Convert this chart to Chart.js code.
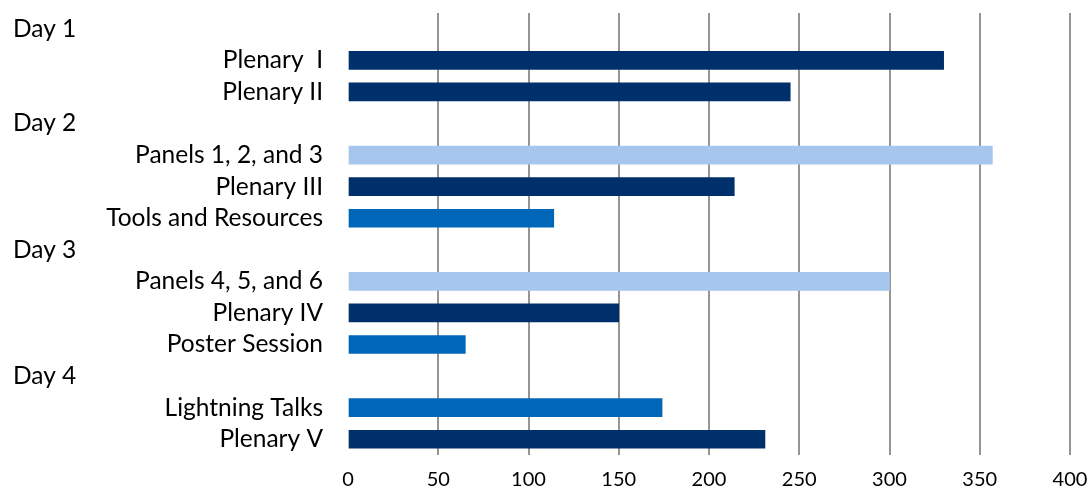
<!DOCTYPE html>
<html>
<head>
<meta charset="utf-8">
<script src="https://cdn.jsdelivr.net/npm/chart.js@4/dist/chart.umd.min.js"></script>
<style>
  html, body { margin: 0; padding: 0; background: #fff; }
  #wrap { width: 1088px; height: 491px; }
</style>
</head>
<body>
<div id="wrap"><canvas id="chart"></canvas></div>
<script>
// rows top to bottom; day headers have no bar
const categories = [
    'Day 1', 'Plenary  I', 'Plenary II',
    'Day 2', 'Panels 1, 2, and 3', 'Plenary III', 'Tools and Resources',
    'Day 3', 'Panels 4, 5, and 6', 'Plenary IV', 'Poster Session',
    'Day 4', 'Lightning Talks', 'Plenary V'
];
const isDay = [true, false, false, true, false, false, false, true, false, false, false, true, false, false];
const attendance = [null, 330, 245, null, 357, 214, 114, null, 300, 150, 65, null, 174, 231];
// session type: plenary / panels / other
const sessionType = ['', 'plenary', 'plenary', '', 'panels', 'plenary', 'other', '', 'panels', 'plenary', 'other', '', 'other', 'plenary'];
const xTicks = [0, 50, 100, 150, 200, 250, 300, 350, 400];

const typeColors = { plenary: '#00306b', panels: '#a7c6ed', other: '#0066b8', '': '#ffffff' };
const labelFont = { family: 'Lato, "Open Sans", sans-serif', size: 24.5 };

// left-aligned day headers
const dayLabels = {
    id: 'dayLabels',
    afterDraw(chart) {
        const ctx = chart.ctx;
        const y = chart.scales.y;
        ctx.save();
        ctx.font = labelFont.size + 'px ' + labelFont.family;
        ctx.fillStyle = '#000';
        ctx.textAlign = 'left';
        ctx.textBaseline = 'middle';
        categories.forEach((c, i) => {
            if (isDay[i]) ctx.fillText(c, 13, y.getPixelForValue(i));
        });
        ctx.restore();
    }
};

new Chart(document.getElementById('chart'), {
    type: 'bar',
    data: {
        labels: categories,
        datasets: [{
            data: attendance,
            backgroundColor: sessionType.map(t => typeColors[t]),
            barThickness: 18
        }]
    },
    options: {
        indexAxis: 'y',
        responsive: true,
        maintainAspectRatio: false,
        animation: false,
        layout: { padding: { top: 13, right: 18, left: 0, bottom: 0 } },
        plugins: { legend: { display: false }, tooltip: { enabled: false } },
        scales: {
            x: {
                min: 0, max: 400,
                afterBuildTicks: s => { s.ticks = xTicks.map(v => ({ value: v })); },
                afterFit: s => { s.height = 36; s.paddingLeft = 0; s.paddingRight = 0; },
                border: { display: false },
                grid: {
                    color: ctx => ctx.tick && ctx.tick.value === 0 ? 'rgba(0,0,0,0)' : '#98948f',
                    lineWidth: 2,
                    drawTicks: false
                },
                ticks: { color: '#000', padding: 13, font: { family: labelFont.family, size: 20 } }
            },
            y: {
                afterFit: s => { s.width = 348; s.paddingTop = 0; s.paddingBottom = 0; },
                border: { display: false },
                grid: { display: false, drawTicks: false },
                ticks: {
                    color: '#000',
                    padding: 25,
                    autoSkip: false,
                    font: labelFont,
                    callback: (v, i) => isDay[i] ? '' : categories[i]
                }
            }
        }
    },
    plugins: [dayLabels]
});
</script>
</body>
</html>
